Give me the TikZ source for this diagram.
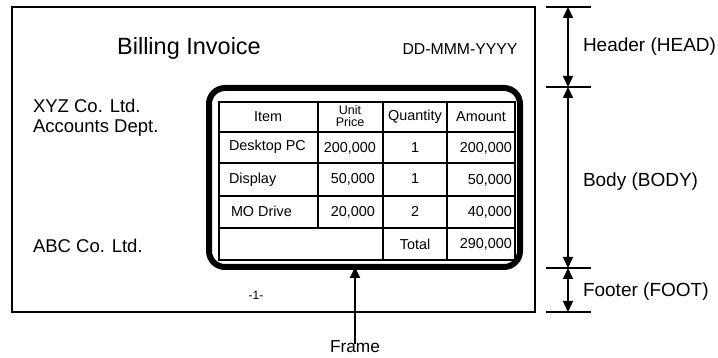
\documentclass[tikz,border=0pt]{standalone}
\usepackage{fontspec}
\setmainfont{Liberation Sans}
\usetikzlibrary{arrows.meta}
\newcommand{\fsz}[1]{\fontsize{#1}{#1}\selectfont}
\tikzset{
  txt/.style={inner sep=0pt, outer sep=0pt},
  cell/.style={txt, font=\fsz{14.4}},
  dimline/.style={line width=1.5pt, {Triangle[length=11pt,width=10pt]}-{Triangle[length=11pt,width=10pt]}},
  tick/.style={line width=1.5pt},
  ptr/.style={line width=2pt, -{Triangle[length=11pt,width=10pt]}},
}
\begin{document}
\begin{tikzpicture}[x=1pt,y=-1pt]
\useasboundingbox (0,0) rectangle (718,358);
% page
\node[draw, line width=1.5pt, minimum width=523pt, minimum height=305pt, inner sep=0pt, outer sep=0pt] (page) at (273.5,159.5) {};
% header texts
\node[txt, font=\fsz{23.5}] (title) at (189,48) {Billing Invoice};
\node[txt, font=\fsz{15.8}] (date) at (460,49) {DD-MMM-YYYY};
\node[txt, font=\fsz{18.5}, anchor=west] (xyz) at (33,106) {XYZ Co. Ltd.};
\node[txt, font=\fsz{18.5}, anchor=west] (acc) at (33,128) {Accounts Dept.};
\node[txt, font=\fsz{18.5}, anchor=west] (abc) at (33,246) {ABC Co. Ltd.};
\node[txt, font=\fsz{12}] (pagenum) at (256,295) {-1-};
% frame
\node[draw, line width=6pt, rounded corners=16pt, minimum width=311pt, minimum height=179pt, inner sep=0pt, outer sep=0pt] (frame) at (364.5,177.5) {};
% table
\draw[line width=2pt] (219,102) rectangle (515,260);
\foreach \y in {132,163,196,228} \draw[line width=2pt] (219,\y) -- (515,\y);
\draw[line width=2pt] (318,102) -- (318,228);
\draw[line width=2pt] (383,102) -- (383,260);
\draw[line width=2pt] (447,102) -- (447,260);
% table texts
\node[cell] (hItem) at (268,117) {Item};
\node[txt, font=\fsz{12.5}, anchor=base] (hUnit) at (350,115) {Unit};
\node[txt, font=\fsz{12.5}, anchor=base] (hPrice) at (350,127) {Price};
\node[cell] (hQty) at (415,117) {Quantity};
\node[cell] (hAmt) at (481,117) {Amount};
\node[cell, anchor=west] (r1a) at (229,147) {Desktop PC};
\node[cell, anchor=east] (r1b) at (376,148) {200,000};
\node[cell] (r1c) at (415,148) {1};
\node[cell, anchor=east] (r1d) at (512,148) {200,000};
\node[cell, anchor=west] (r2a) at (229,180) {Display};
\node[cell, anchor=east] (r2b) at (375,179) {50,000};
\node[cell] (r2c) at (415,179) {1};
\node[cell, anchor=east] (r2d) at (512,180) {50,000};
\node[cell, anchor=west] (r3a) at (231,211) {MO Drive};
\node[cell, anchor=east] (r3b) at (375,212) {20,000};
\node[cell] (r3c) at (415,211) {2};
\node[cell, anchor=east] (r3d) at (512,212) {40,000};
\node[cell] (tot) at (415,244) {Total};
\node[cell, anchor=east] (totv) at (512,244) {290,000};
% frame pointer
\node[txt, font=\fsz{17.3}] (framelbl) at (355,347) {Frame};
\draw[ptr] ([yshift=-3pt]framelbl.north) -- (frame.south -| framelbl.north);
% dimension ticks
\coordinate (d0) at (568,7);
\coordinate (d1) at (568,87);
\coordinate (d2) at (568,268);
\coordinate (d3) at (568,312);
\foreach \c in {d0,d1,d2,d3} \draw[tick] ([xshift=-22pt]\c) -- ([xshift=23pt]\c);
\draw[dimline] (d0) -- (d1);
\draw[dimline] (d1) -- (d2);
\draw[dimline] (d2) -- (d3);
\node[txt, font=\fsz{19}, anchor=west] (lhead) at (583,47) {Header (HEAD)};
\node[txt, font=\fsz{19}, anchor=west] (lbody) at (583,182) {Body (BODY)};
\node[txt, font=\fsz{19}, anchor=west] (lfoot) at (583,292) {Footer (FOOT)};
\end{tikzpicture}
\end{document}
